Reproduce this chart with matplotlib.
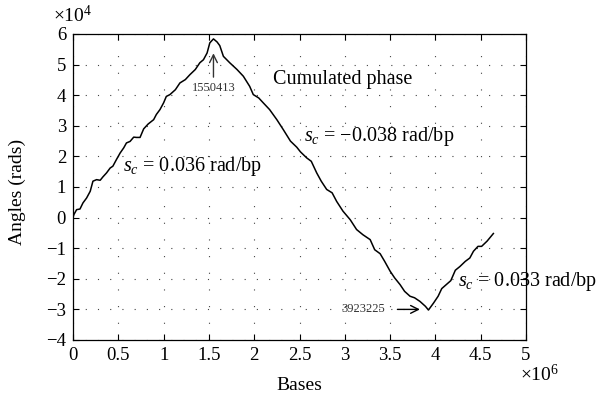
import matplotlib
matplotlib.use("Agg")
import matplotlib.pyplot as plt
from matplotlib.ticker import FuncFormatter

plt.rcParams["font.family"] = ["Liberation Serif", "DejaVu Serif"]
plt.rcParams["mathtext.fontset"] = "custom"
plt.rcParams["mathtext.rm"] = "Liberation Serif"
plt.rcParams["mathtext.it"] = "Liberation Serif:italic"

# Cumulated phase along the genome (bases, radians)
bases = [0, 10000, 40000, 77000, 110000, 150000, 190000, 220000, 260000, 300000,
         330000, 370000, 410000, 440000, 480000, 520000, 560000, 590000, 630000, 670000,
         700000, 740000, 780000, 830000, 890000, 920000, 960000, 1000000, 1030000, 1070000,
         1130000, 1180000, 1240000, 1290000, 1350000, 1400000, 1440000, 1480000, 1510000, 1550413,
         1590000, 1620000, 1660000, 1730000, 1810000, 1880000, 1950000, 1990000, 2050000, 2100000,
         2170000, 2250000, 2320000, 2400000, 2470000, 2510000, 2580000, 2630000, 2690000, 2740000,
         2800000, 2860000, 2910000, 2980000, 3060000, 3130000, 3200000, 3280000, 3330000, 3390000,
         3440000, 3500000, 3550000, 3610000, 3660000, 3720000, 3770000, 3830000, 3890000, 3923225,
         3980000, 4030000, 4070000, 4120000, 4170000, 4220000, 4270000, 4330000, 4380000, 4420000,
         4470000, 4510000, 4570000, 4640000]
phase = [0, 1000, 2600, 2800, 4800, 6400, 8600, 11900, 12400, 12200,
         13300, 14600, 16200, 16800, 19000, 21100, 22800, 24400, 24900, 26300,
         26200, 26200, 29000, 30600, 32000, 33700, 35300, 37500, 39600, 40200,
         41800, 44000, 45100, 46700, 48400, 50600, 51600, 53800, 57100, 58400,
         57400, 56200, 52700, 50600, 48400, 46200, 42900, 40200, 39100, 37500,
         35300, 32000, 28800, 25000, 23000, 21500, 19500, 18400, 14600, 11900,
         9200, 8100, 5300, 2100, -700, -3900, -5600, -7200, -10500, -11800,
         -14300, -17500, -19700, -21900, -24100, -25700, -26200, -27400, -29000, -30200,
         -27900, -25700, -23200, -21900, -20600, -17200, -16000, -14300, -13200, -11000,
         -9400, -9400, -7700, -5200]

x_ticks = [0, 0.5, 1, 1.5, 2, 2.5, 3, 3.5, 4, 4.5, 5]
y_ticks = [-4, -3, -2, -1, 0, 1, 2, 3, 4, 5, 6]
x_scale = 1e6
y_scale = 1e4

peak_base = 1550413
trough_base = 3923225

W, H = 606, 399
fig = plt.figure(figsize=(W / 100, H / 100), dpi=100)
ax = fig.add_axes([73 / W, 1 - 340 / H, (526 - 73) / W, (340 - 34) / H])

ax.plot(bases, phase, color="black", lw=1.1)

ax.set_xlim(0, 5 * x_scale)
ax.set_ylim(-4 * y_scale, 6 * y_scale)
ax.set_xticks([t * x_scale for t in x_ticks])
ax.set_yticks([t * y_scale for t in y_ticks])


def fmt(scale):
    def f(v, pos):
        s = "%g" % (v / scale)
        return s.replace("-", "\u2212")
    return FuncFormatter(f)


ax.xaxis.set_major_formatter(fmt(x_scale))
ax.yaxis.set_major_formatter(fmt(y_scale))
ax.tick_params(direction="in", length=4, width=0.8, top=True, right=True,
               labelsize=13.5, pad=5)
for sp in ax.spines.values():
    sp.set_linewidth(0.9)

ax.xaxis.grid(True, color="#444444", lw=0.8, linestyle=(0, (1, 14)))
ax.yaxis.grid(True, color="#444444", lw=0.8, linestyle=(0, (1, 10)))
ax.set_axisbelow(True)

# multipliers
fig.text(53 / W, 1 - 15 / H, r"$\times 10^{4}$", fontsize=14, ha="left", va="center")
fig.text(520 / W, 1 - 375 / H, r"$\times 10^{6}$", fontsize=14, ha="left", va="center")

# axis labels
fig.text(17 / W, 1 - 192 / H, "Angles (rads)", rotation=90, fontsize=14,
         ha="center", va="center")
fig.text(299 / W, 1 - 386 / H, "Bases", fontsize=14, ha="center", va="center")

# annotations
ax.text(2.21 * x_scale, 4.5 * y_scale, "Cumulated phase", fontsize=14.5,
        ha="left", va="center")
ax.text(0.55 * x_scale, 1.67 * y_scale, r"$s_c$ = 0.036 rad/bp", fontsize=14.5,
        ha="left", va="center")
ax.text(2.555 * x_scale, 2.66 * y_scale, "$s_c$ = \u22120.038 rad/bp", fontsize=14.5,
        ha="left", va="center")
ax.text(4.25 * x_scale, -2.08 * y_scale, r"$s_c$ = 0.033 rad/bp", fontsize=14.5,
        ha="left", va="center", clip_on=False)

ax.annotate("", xy=(peak_base, 5.46 * y_scale), xytext=(peak_base, 4.5 * y_scale),
            arrowprops=dict(arrowstyle="->", color="#333333", lw=1.0, mutation_scale=14))
ax.text(peak_base, 4.22 * y_scale, str(peak_base), fontsize=9, ha="center",
        va="center", color="#333333")

ax.annotate("", xy=(3.86 * x_scale, -3.0 * y_scale), xytext=(3.55 * x_scale, -3.0 * y_scale),
            arrowprops=dict(arrowstyle="->", color="black", lw=1.0, mutation_scale=14))
ax.text(3.2 * x_scale, -3.0 * y_scale, str(trough_base), fontsize=9, ha="center",
        va="center", color="#333333")

fig.savefig("out.png", dpi=100)
